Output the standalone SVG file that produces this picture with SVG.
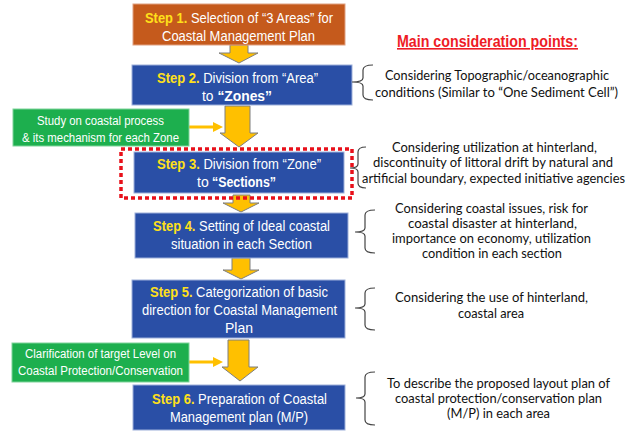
<svg xmlns="http://www.w3.org/2000/svg" width="643" height="432" viewBox="0 0 643 432">
<style>
.box{fill:#2A4FA6;stroke:#9DB0DA;stroke-width:1}
.orange{fill:#C55A1C;stroke:#E0A080;stroke-width:1}
.green{fill:#1DAF4E;stroke:#7FD39A;stroke-width:1}
.st{font-family:"Liberation Sans Narrow","Liberation Sans",Arial,sans-serif;font-size:14px;fill:#fff}
.gt{font-family:"Liberation Sans Narrow","Liberation Sans",Arial,sans-serif;font-size:12.5px;fill:#fff}
.y{fill:#FFE01A;font-weight:bold}
.b{font-weight:bold}
.rt{font-family:Lato,"Open Sans","Liberation Sans",sans-serif;font-size:12.5px;fill:#111}
.brace{fill:none;stroke:#444;stroke-width:1.2}
.bigarrow{fill:#FFC000;stroke:#7F7F7F;stroke-width:1}
.oline{stroke:#FFC000;stroke-width:3;fill:none}
.ohead{fill:#FFC000}
</style>
<rect width="643" height="432" fill="#fff"/>

<g id="connectors">
  <polygon class="bigarrow" points="230,45 248,45 248,53 258,53 239,63 219,53 230,53"/>
  <polygon class="bigarrow" points="225,106 250,106 250,133 258,133 239,147 220,133 225,133"/>
  <polygon class="bigarrow" points="233,195 250,195 250,203 259,203 241,212 223,203 233,203"/>
  <polygon class="bigarrow" points="232,258 250,258 250,270 259,270 241,279 223,270 232,270"/>
  <polygon class="bigarrow" points="228,340 249,340 249,367 258,367 240,381 222,367 228,367"/>
  <line class="oline" x1="189" y1="127" x2="214" y2="127"/>
  <polygon class="ohead" points="213,122 223,127 213,132"/>
  <line class="oline" x1="189" y1="362" x2="214" y2="362"/>
  <polygon class="ohead" points="213,357 223,362 213,367"/>
</g>

<g id="step1">
  <rect class="orange" x="133" y="4" width="212" height="41"/>
  <text class="st" x="145" y="23" textLength="188" lengthAdjust="spacingAndGlyphs"><tspan class="y">Step 1.</tspan> Selection of “3 Areas” for</text>
  <text class="st" x="162" y="41" textLength="153" lengthAdjust="spacingAndGlyphs">Coastal Management Plan</text>
</g>

<g id="step2">
  <rect class="box" x="132" y="65" width="220" height="40"/>
  <text class="st" x="157" y="83" textLength="161" lengthAdjust="spacingAndGlyphs"><tspan class="y">Step 2.</tspan> Division from “Area”</text>
  <text class="st" x="202" y="101" textLength="70" lengthAdjust="spacingAndGlyphs">to <tspan class="b">“Zones”</tspan></text>
</g>

<g id="study">
  <rect class="green" x="13" y="109" width="176" height="37"/>
  <text class="gt" x="37" y="125" textLength="127" lengthAdjust="spacingAndGlyphs">Study on coastal process</text>
  <text class="gt" x="22" y="142" textLength="157" lengthAdjust="spacingAndGlyphs">&amp; its mechanism for each Zone</text>
</g>

<g id="step3">
  <rect class="box" x="134" y="152" width="210" height="41"/>
  <text class="st" x="157" y="168.5" textLength="164" lengthAdjust="spacingAndGlyphs"><tspan class="y">Step 3.</tspan> Division from “Zone”</text>
  <text class="st" x="197" y="187">to</text>
  <text class="st b" x="212" y="187" textLength="64" lengthAdjust="spacingAndGlyphs">“Sections”</text>
  <rect x="121" y="149" width="231" height="49" fill="none" stroke="#E8101A" stroke-width="3.5" stroke-dasharray="4 3"/>
</g>

<g id="step4">
  <rect class="box" x="135" y="213" width="213" height="45"/>
  <text class="st" x="153" y="231" textLength="177" lengthAdjust="spacingAndGlyphs"><tspan class="y">Step 4.</tspan> Setting of Ideal coastal</text>
  <text class="st" x="171" y="249" textLength="141" lengthAdjust="spacingAndGlyphs">situation in each Section</text>
</g>

<g id="step5">
  <rect class="box" x="132" y="280" width="213" height="58"/>
  <text class="st" x="150" y="297" textLength="178" lengthAdjust="spacingAndGlyphs"><tspan class="y">Step 5.</tspan> Categorization of basic</text>
  <text class="st" x="142" y="315" textLength="195" lengthAdjust="spacingAndGlyphs">direction for Coastal Management</text>
  <text class="st" x="239" y="333" text-anchor="middle">Plan</text>
</g>

<g id="clarification">
  <rect class="green" x="12" y="343" width="177" height="39"/>
  <text class="gt" x="25" y="358" textLength="151" lengthAdjust="spacingAndGlyphs">Clarification of target Level on</text>
  <text class="gt" x="18" y="375" textLength="165" lengthAdjust="spacingAndGlyphs">Coastal Protection/Conservation</text>
</g>

<g id="step6">
  <rect class="box" x="133" y="385" width="212" height="45"/>
  <text class="st" x="152" y="404" textLength="175" lengthAdjust="spacingAndGlyphs"><tspan class="y">Step 6.</tspan> Preparation of Coastal</text>
  <text class="st" x="170" y="422" textLength="138" lengthAdjust="spacingAndGlyphs">Management plan (M/P)</text>
</g>

<g id="title">
  <text x="397" y="47" textLength="181" lengthAdjust="spacingAndGlyphs" font-family="'Liberation Sans Narrow','Liberation Sans',Arial,sans-serif" font-size="16" font-weight="bold" fill="#EE1C25" text-decoration="underline">Main consideration points:</text>
</g>

<g id="note1">
  <path class="brace" d="M373,65 Q363,65 363,70 V78 Q363,82 352,82 Q363,82 363,86 V95 Q363,100 373,100"/>
  <text class="rt" x="385" y="80" textLength="224" lengthAdjust="spacingAndGlyphs">Considering Topographic/oceanographic</text>
  <text class="rt" x="375" y="97" textLength="243" lengthAdjust="spacingAndGlyphs">conditions (Similar to “One Sediment Cell”)</text>
</g>

<g id="note2">
  <path class="brace" d="M366,147 Q358,147 358,152 V164 Q358,168 350,168 Q358,168 358,172 V183 Q358,188 366,188"/>
  <text class="rt" x="392" y="152" textLength="205" lengthAdjust="spacingAndGlyphs">Considering utilization at hinterland,</text>
  <text class="rt" x="373" y="167" textLength="240" lengthAdjust="spacingAndGlyphs">discontinuity of littoral drift by natural and</text>
  <text class="rt" x="362" y="183" textLength="263" lengthAdjust="spacingAndGlyphs">artificial boundary, expected initiative agencies</text>
</g>

<g id="note3">
  <path class="brace" d="M375,210 Q365,210 365,215 V228 Q365,232 355,232 Q365,232 365,236 V248 Q365,253 375,253"/>
  <text class="rt" x="395" y="213" textLength="193" lengthAdjust="spacingAndGlyphs">Considering coastal issues, risk for</text>
  <text class="rt" x="408" y="228" textLength="169" lengthAdjust="spacingAndGlyphs">coastal disaster at hinterland,</text>
  <text class="rt" x="392" y="243" textLength="199" lengthAdjust="spacingAndGlyphs">importance on economy, utilization</text>
  <text class="rt" x="422" y="258" textLength="140" lengthAdjust="spacingAndGlyphs">condition in each section</text>
</g>

<g id="note4">
  <path class="brace" d="M375,288 Q365,288 365,293 V304 Q365,308 355,308 Q365,308 365,312 V325 Q365,330 375,330"/>
  <text class="rt" x="395" y="302" textLength="193" lengthAdjust="spacingAndGlyphs">Considering the use of hinterland,</text>
  <text class="rt" x="458" y="318" textLength="66" lengthAdjust="spacingAndGlyphs">coastal area</text>
</g>

<g id="note5">
  <path class="brace" d="M375,372 Q365,372 365,377 V394 Q365,398 356,398 Q365,398 365,402 V420 Q365,425 375,425"/>
  <text class="rt" x="387" y="388" textLength="223" lengthAdjust="spacingAndGlyphs">To describe the proposed layout plan of</text>
  <text class="rt" x="395" y="403" textLength="207" lengthAdjust="spacingAndGlyphs">coastal protection/conservation plan</text>
  <text class="rt" x="447" y="418" textLength="103" lengthAdjust="spacingAndGlyphs">(M/P) in each area</text>
</g>
</svg>
